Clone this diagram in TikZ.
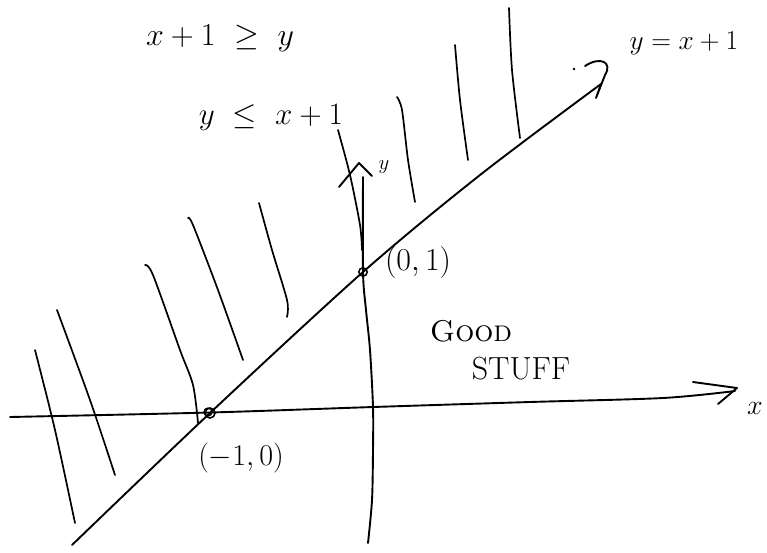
\documentclass[tikz,border=0pt]{standalone}
\usepackage{fontspec}
\newcommand\mth[2]{\scalebox{#1}{\fontsize{20.74}{24}\selectfont$#2$}}
\begin{document}
\begin{tikzpicture}[x=1pt,y=-1pt,
  pen/.style={line width=1.9pt, line cap=round, line join=round},
  hatch/.style={line width=1.7pt, line cap=round},
  lbl/.style={inner sep=0pt, anchor=center}]
\useasboundingbox[fill=white] (0,0) rectangle (767,552);

% x-axis
\coordinate (xa0) at (10,417);
\coordinate (xa1) at (210,412.5);
\coordinate (xa2) at (373,407);
\coordinate (xa3) at (530,402);
\coordinate (xa4) at (663,398);
\coordinate (xa5) at (735,391);
\draw[pen] plot[smooth] coordinates {(xa0) (xa1) (xa2) (xa3) (xa4) (xa5)};
\coordinate (xh1) at (693,382);
\coordinate (xh2) at (737,388);
\coordinate (xh3) at (718,404);
\draw[pen] (xh1) -- (xh2) -- (xh3);
\node[lbl] (xlbl) at (755,408) {\mth{1.35}{x}};

% y-axis
\coordinate (ya0) at (363,177);
\coordinate (ya1) at (363,272);
\coordinate (ya2) at (366,310);
\coordinate (ya3) at (370,350);
\coordinate (ya4) at (373,407);
\coordinate (ya5) at (373,450);
\coordinate (ya6) at (372,500);
\coordinate (ya7) at (368,543);
\draw[pen] plot[smooth] coordinates {(ya0) (ya1) (ya2) (ya3) (ya4) (ya5) (ya6) (ya7)};
\coordinate (yh1) at (339,187);
\coordinate (yh2) at (359,163);
\coordinate (yh3) at (372,176);
\draw[pen] (yh1) -- (yh2) -- (yh3);
\node[lbl] (ylbl) at (384,167) {\mth{1}{y}};

% line y = x+1
\coordinate (l0) at (72,545);
\coordinate (l1) at (210,413);
\coordinate (l2) at (363,272);
\coordinate (l3) at (480,175);
\coordinate (l4) at (601,84);
\draw[pen] plot[smooth] coordinates {(l0) (l1) (l2) (l3) (l4)};
\coordinate (lh0) at (585,66);
\coordinate (lh1) at (605,75);
\coordinate (lh2) at (596,98);
\draw[pen] (lh0) .. controls (600,56) and (613,62) .. (lh1) -- (lh2) -- (l4);
\fill (574,69) circle (1.3);

% points
\draw[line width=1.6pt] (l1) circle (5);
\draw[line width=1.3pt] (208,412) circle (4);
\draw[line width=1.5pt] (l2) circle (4.2);

% hatch lines
\draw[hatch] plot[smooth] coordinates {(35,350) (55,430) (75,523)};
\draw[hatch] plot[smooth] coordinates {(57,310) (90,400) (115,475)};
\draw[hatch] plot[smooth] coordinates {(145,265) (153,275) (180,350) (193,385) (198,423)};
\draw[hatch] plot[smooth] coordinates {(188,218) (193,225) (218,290) (243,360)};
\draw[hatch] plot[smooth] coordinates {(259,203) (272,250) (287,300) (287,317)};
\draw[hatch] plot[smooth] coordinates {(338,130) (350,175) (360,225) (362,250)};
\draw[hatch] plot[smooth] coordinates {(397,97) (402,110) (408,160) (415,202)};
\draw[hatch] plot[smooth] coordinates {(455,45) (460,100) (468,160)};
\draw[hatch] plot[smooth] coordinates {(509,8) (512,70) (520,138)};

% labels
\node[lbl] (t1) at (220,38) {\mth{1.54}{x+1\ \geq\ y}};
\node[lbl] (t2) at (271,117) {\mth{1.5}{y\ \leq\ x+1}};
\node[lbl] (t3) at (684,43) {\mth{1.32}{y=x+1}};
\node[lbl] (pA) at (241,458) {\mth{1.45}{(-1,0)}};
\node[lbl] (pB) at (418,263) {\mth{1.54}{(0,1)}};
\node[lbl, font=\fontsize{30}{32}\selectfont] (g1) at (471,331) {\textsc{Good}};
\node[lbl, font=\fontsize{32}{34}\selectfont] (g2) at (521,369) {STUFF};
\end{tikzpicture}
\end{document}
